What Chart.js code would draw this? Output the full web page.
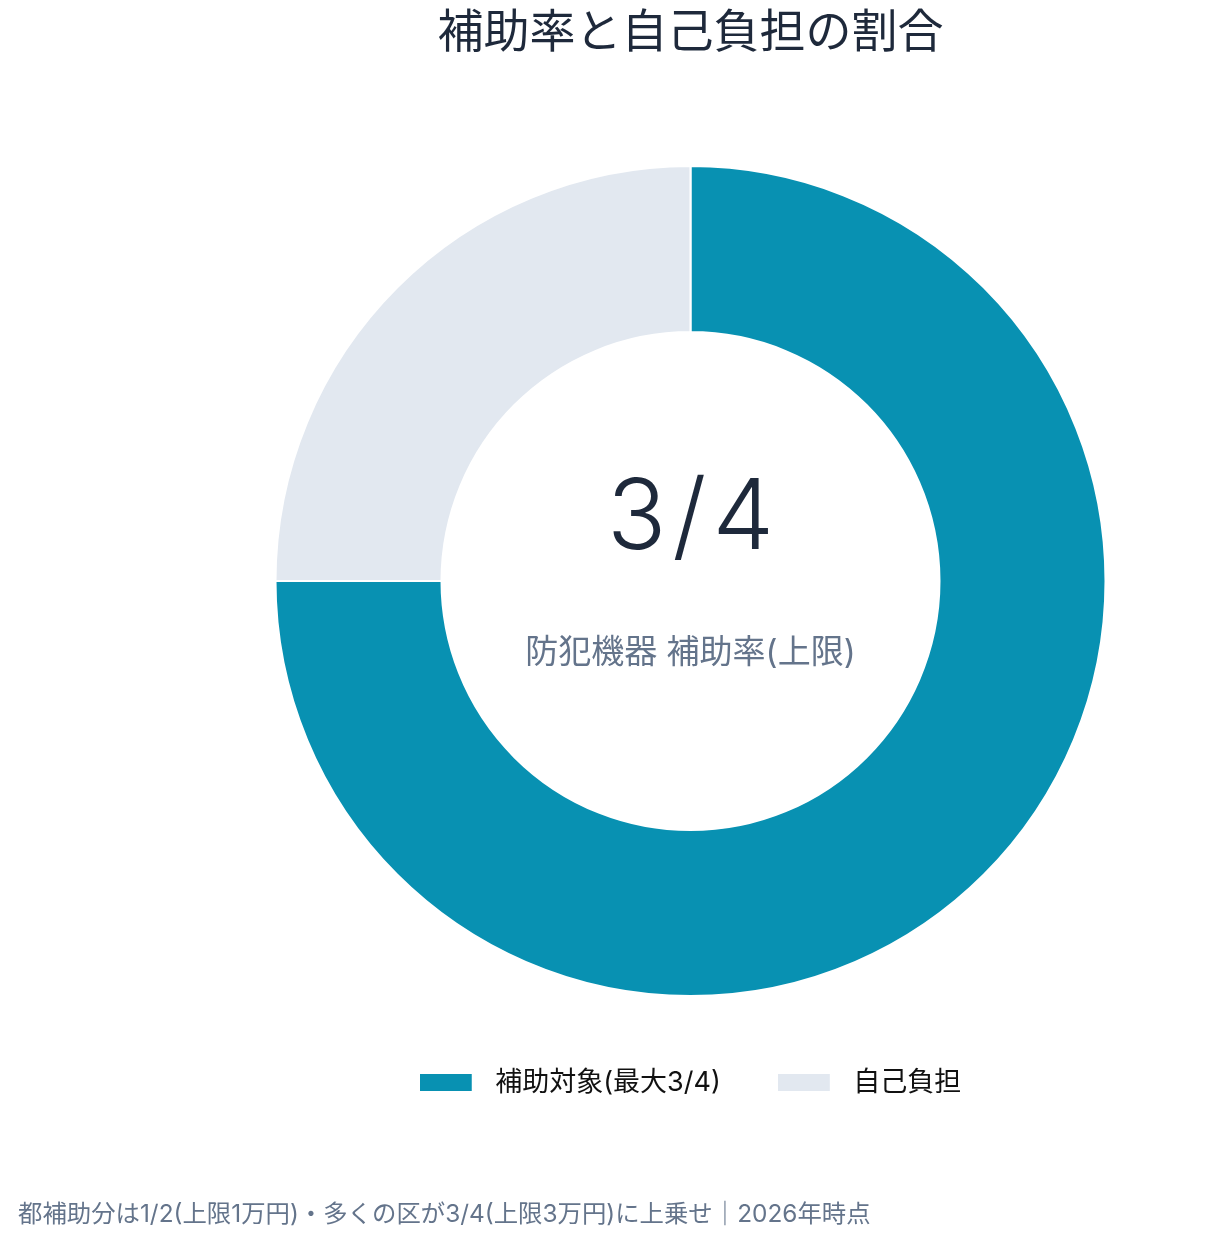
<!DOCTYPE html>
<html lang="ja">
<head>
<meta charset="utf-8">
<script src="https://cdn.jsdelivr.net/npm/chart.js@4"></script>
<style>
  html, body { margin: 0; padding: 0; background: #fff; }
  #wrap { position: relative; width: 1225px; height: 1242px; }
  #note {
    position: absolute; left: 18px; top: 1199px; white-space: nowrap; line-height: 1.2;
    font-family: Inter, "Noto Sans CJK JP", sans-serif; font-size: 24.4px; color: #64748b;
  }
</style>
</head>
<body>
<div id="wrap">
  <canvas id="myChart" width="1225" height="1242"></canvas>
  <div id="note">都補助分は1/2(上限1万円)・多くの区が3/4(上限3万円)に上乗せ｜2026年時点</div>
</div>
<script>
// データ
const labels = ['補助対象(最大3/4)', '自己負担'];
const values = [75, 25];
const colors = ['#0891b2', '#e2e8f0'];
const centerMain = '3/4';
const centerSub = '防犯機器 補助率(上限)';

const FONT = 'Inter, "Noto Sans CJK JP", sans-serif';

// 凡例の四角（右に少し余白をつける）
function legendSwatch(color) {
  const c = document.createElement('canvas');
  c.width = 62;
  c.height = 17;
  const g = c.getContext('2d');
  g.fillStyle = color;
  g.fillRect(0, 0, 52, 17);
  return c;
}

// 中央のテキスト
const centerText = {
  id: 'centerText',
  afterDraw(chart) {
    const meta = chart.getDatasetMeta(0);
    if (!meta.data.length) return;
    const { x, y } = meta.data[0];
    const ctx = chart.ctx;
    ctx.save();
    ctx.textAlign = 'center';
    ctx.textBaseline = 'alphabetic';
    ctx.fillStyle = '#1e293b';
    ctx.font = '300 98px ' + FONT;
    ctx.letterSpacing = '6px';
    ctx.fillText(centerMain, x + 3, y - 32);
    ctx.letterSpacing = '0px';
    ctx.fillStyle = '#64748b';
    ctx.textBaseline = 'middle';
    ctx.font = '33px ' + FONT;
    ctx.fillText(centerSub, x, y + 72);
    ctx.restore();
  }
};

const ctx = document.getElementById('myChart').getContext('2d');
new Chart(ctx, {
  type: 'doughnut',
  data: {
    labels: labels,
    datasets: [{
      data: values,
      backgroundColor: colors,
      borderColor: '#ffffff',
      borderWidth: 2
    }]
  },
  options: {
    responsive: false,
    animation: false,
    cutout: '60%',
    radius: 415,
    layout: { padding: { left: 156, right: 0, top: 0, bottom: 136 } },
    plugins: {
      title: {
        display: true,
        text: '補助率と自己負担の割合',
        color: '#1e293b',
        font: { family: FONT, size: 46, weight: 'normal' },
        padding: { top: 6, bottom: 89 }
      },
      legend: {
        position: 'bottom',
        labels: {
          color: '#111',
          font: { family: FONT, size: 27 },
          usePointStyle: true,
          pointStyleWidth: 62,
          boxHeight: 17,
          padding: 57,
          generateLabels(chart) {
            const items = Chart.overrides.doughnut.plugins.legend.labels.generateLabels(chart);
            items.forEach((item, i) => { item.pointStyle = legendSwatch(colors[i]); });
            return items;
          }
        }
      },
      tooltip: { enabled: false }
    }
  },
  plugins: [centerText]
});
</script>
</body>
</html>
